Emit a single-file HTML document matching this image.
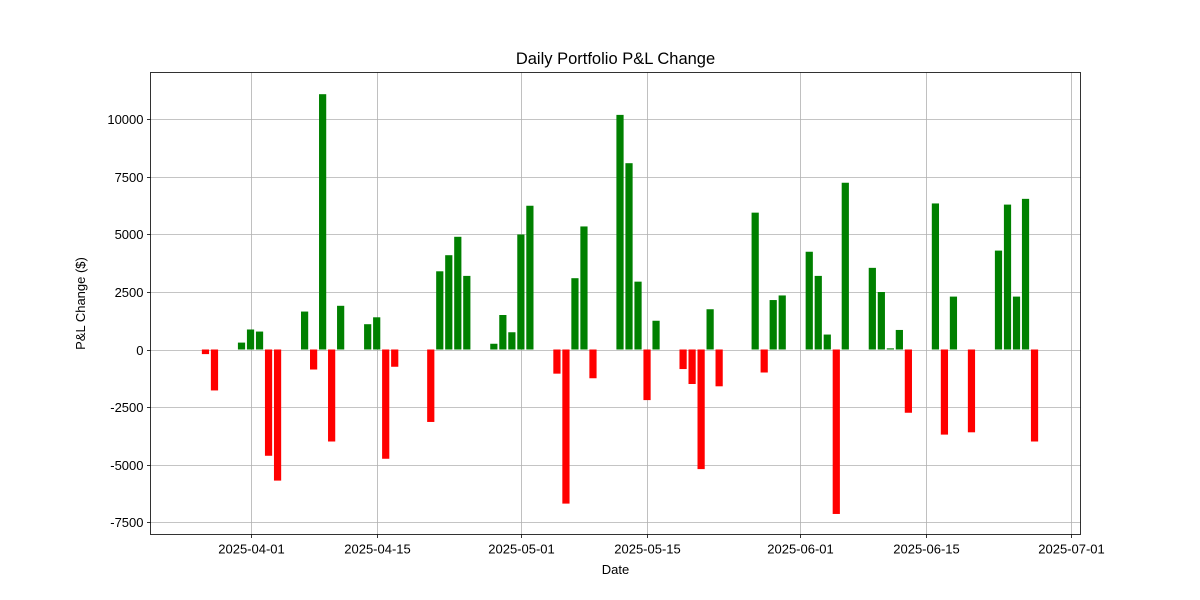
<!DOCTYPE html>
<html><head><meta charset="utf-8"><style>
body{margin:0;background:#fff;}
svg{display:block;font-family:"Liberation Sans","DejaVu Sans",sans-serif;}
</style></head><body>
<svg id="chart" width="1200" height="600"></svg>
<script>
const dates = ["2025-03-27","2025-03-28","2025-03-31","2025-04-01","2025-04-02","2025-04-03","2025-04-04",
"2025-04-07","2025-04-08","2025-04-09","2025-04-10","2025-04-11",
"2025-04-14","2025-04-15","2025-04-16","2025-04-17",
"2025-04-21","2025-04-22","2025-04-23","2025-04-24","2025-04-25",
"2025-04-28","2025-04-29","2025-04-30","2025-05-01","2025-05-02",
"2025-05-05","2025-05-06","2025-05-07","2025-05-08","2025-05-09",
"2025-05-12","2025-05-13","2025-05-14","2025-05-15","2025-05-16",
"2025-05-19","2025-05-20","2025-05-21","2025-05-22","2025-05-23",
"2025-05-27","2025-05-28","2025-05-29","2025-05-30",
"2025-06-02","2025-06-03","2025-06-04","2025-06-05","2025-06-06",
"2025-06-09","2025-06-10","2025-06-11","2025-06-12","2025-06-13",
"2025-06-16","2025-06-17","2025-06-18","2025-06-20",
"2025-06-23","2025-06-24","2025-06-25","2025-06-26","2025-06-27"];
const pnl = [-200,-1780,300,870,780,-4620,-5700,
1650,-870,11100,-4000,1900,
1100,1400,-4750,-750,
-3150,3400,4100,4900,3200,
250,1500,750,5000,6250,
-1050,-6700,3100,5350,-1250,
10200,8100,2950,-2200,1250,
-850,-1500,-5200,1750,-1600,
5950,-1000,2150,2350,
4250,3200,650,-7150,7250,
3550,2500,50,850,-2750,
6350,-3700,2300,-3600,
4300,6300,2300,6550,-4000];
const yTicks = [-7500,-5000,-2500,0,2500,5000,7500,10000];
const xTicks = ["2025-04-01","2025-04-15","2025-05-01","2025-05-15","2025-06-01","2025-06-15","2025-07-01"];

const NS="http://www.w3.org/2000/svg";
const svg=document.getElementById('chart');
const L=150.5,R=1080.5,T=72.5,B=534.5;
const day0=Date.UTC(2025,3,1);
const dmin=-11.1,dmax=92.1, ymin=-8043, ymax=12043;
function dayOf(s){const p=s.split('-');return (Date.UTC(+p[0],+p[1]-1,+p[2])-day0)/86400000;}
function X(s){return L+(dayOf(s)-dmin)/(dmax-dmin)*(R-L);}
function Y(v){return B-(v-ymin)/(ymax-ymin)*(B-T);}
function el(tag,attrs,parent){const e=document.createElementNS(NS,tag);for(const k in attrs)e.setAttribute(k,attrs[k]);(parent||svg).appendChild(e);return e;}

const grid=el('g',{});


xTicks.forEach(t=>{const x=Math.round(X(t))+0.5;
  const g=el('line',{x1:x,x2:x,y1:T,y2:B,stroke:'#b0b0b0','stroke-width':0.8},grid);
  
  
  const tk=el('line',{x1:x,x2:x,y1:B,y2:B+3.5,stroke:'#000','stroke-width':0.8});
  
  
  const lb=el('text',{x:x,y:B+19,'font-size':13,'text-anchor':'middle',fill:'#000'});lb.textContent=t;
  
  
});
yTicks.forEach(v=>{const y=Math.round(Y(v))+0.5;
  const g=el('line',{x1:L,x2:R,y1:y,y2:y,stroke:'#b0b0b0','stroke-width':0.8},grid);
  
  
  const tk=el('line',{x1:L-3.5,x2:L,y1:y,y2:y,stroke:'#000','stroke-width':0.8});
  
  
  const lb=el('text',{x:L-7,y:y+4.5,'font-size':13,'text-anchor':'end',fill:'#000'});lb.textContent=v;
  
  
});
const bars=el('g',{});


const pxPerDay=(R-L)/(dmax-dmin);
dates.forEach((d,i)=>{const v=pnl[i];const cx=X(d);const w=0.8*pxPerDay;
  const y0=Y(0),y1=Y(v);
  const r=el('rect',{x:cx-w/2,width:w,y:Math.min(y0,y1),height:Math.abs(y1-y0),fill:v>=0?'#008000':'#ff0000'},bars);
  
  
});
const frame=el('rect',{x:L,y:T,width:R-L,height:B-T,fill:'none',stroke:'#000','stroke-width':0.8});


const title=el('text',{x:(L+R)/2,y:64,'font-size':16.5,'text-anchor':'middle'});title.textContent='Daily Portfolio P&L Change';


const xt=el('text',{x:(L+R)/2,y:574,'font-size':13,'text-anchor':'middle'});xt.textContent='Date';


const yt=el('text',{x:0,y:0,'font-size':13,'text-anchor':'middle',transform:'translate(85,'+((T+B)/2)+') rotate(-90)'});yt.textContent='P&L Change ($)';


</script>
</body></html>
